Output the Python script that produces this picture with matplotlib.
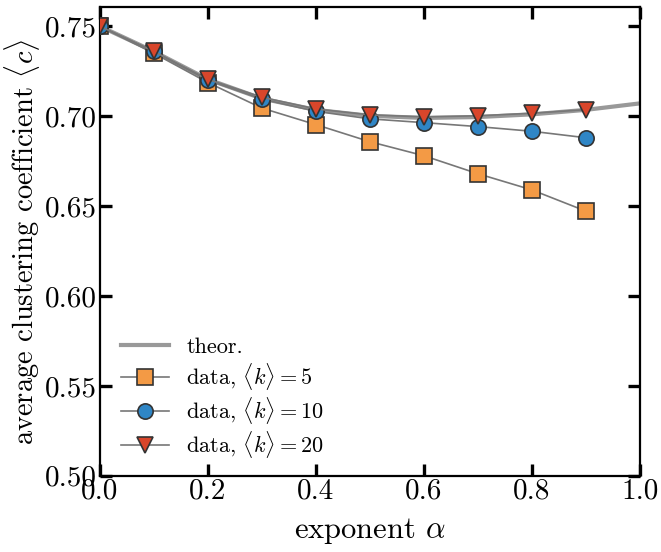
import matplotlib
matplotlib.use("Agg")
import matplotlib.pyplot as plt

plt.rcParams["font.family"] = "serif"
plt.rcParams["font.serif"] = ["cmr10"]
plt.rcParams["mathtext.fontset"] = "cm"
plt.rcParams["axes.formatter.use_mathtext"] = True

# datos
alpha_teo = [0.0, 0.1, 0.2, 0.3, 0.4, 0.5, 0.6, 0.7, 0.8, 0.9, 1.0]
c_teo = [0.750, 0.736, 0.7205, 0.7098, 0.7035, 0.7002, 0.6990, 0.6995, 0.7010, 0.7035, 0.7071]

alpha = [0.0, 0.1, 0.2, 0.3, 0.4, 0.5, 0.6, 0.7, 0.8, 0.9]
c_k5 = [0.750, 0.735, 0.7187, 0.7045, 0.6953, 0.6858, 0.6780, 0.6680, 0.6590, 0.6472]
c_k10 = [0.750, 0.736, 0.7200, 0.7095, 0.7027, 0.6985, 0.6964, 0.6942, 0.6916, 0.6880]
c_k20 = [0.750, 0.736, 0.7205, 0.7105, 0.7040, 0.7007, 0.6996, 0.7002, 0.7016, 0.7036]

fig = plt.figure(figsize=(6.61, 5.52), dpi=100)
ax = fig.add_axes([0.151, 0.138, 0.817, 0.849])

ax.plot(alpha_teo, c_teo, color="#999999", lw=3, label="theor.", zorder=2)
ax.plot(alpha, c_k5, color="#777777", lw=1.2, marker="s", ms=11,
        mfc="#f39a45", mec="#333333", mew=1.2, label=r"data, $\langle k\rangle = 5$", zorder=3)
ax.plot(alpha, c_k10, color="#777777", lw=1.2, marker="o", ms=11,
        mfc="#2f86c6", mec="#333333", mew=1.2, label=r"data, $\langle k\rangle = 10$", zorder=4)
ax.plot(alpha, c_k20, color="#777777", lw=1.2, marker="v", ms=12,
        mfc="#d9462b", mec="#333333", mew=1.2, label=r"data, $\langle k\rangle = 20$", zorder=5)

ax.set_xlim(0, 1.0)
ax.set_ylim(0.5, 0.7606)
ax.set_xticks([0.0, 0.2, 0.4, 0.6, 0.8, 1.0])
ax.set_yticks([0.50, 0.55, 0.60, 0.65, 0.70, 0.75])
ax.set_xticklabels(["0.0", "0.2", "0.4", "0.6", "0.8", "1.0"])
ax.set_yticklabels(["0.50", "0.55", "0.60", "0.65", "0.70", "0.75"])
ax.tick_params(direction="in", top=True, right=True, length=8.6, width=2.4,
               labelsize=21, pad=2)
for s in ax.spines.values():
    s.set_linewidth(1.6)

ax.set_xlabel(r"exponent $\alpha$", fontsize=22, labelpad=8)
ax.set_ylabel(r"average clustering coefficient $\langle c\rangle$", fontsize=20.5, labelpad=2)

ax.legend(loc="lower left", bbox_to_anchor=(0.01, 0.0), frameon=False, fontsize=16,
          handlelength=2.15, handletextpad=0.8, borderaxespad=0.3, labelspacing=0.15)

fig.savefig("out.png", dpi=100)
print("Gráfico guardado")
